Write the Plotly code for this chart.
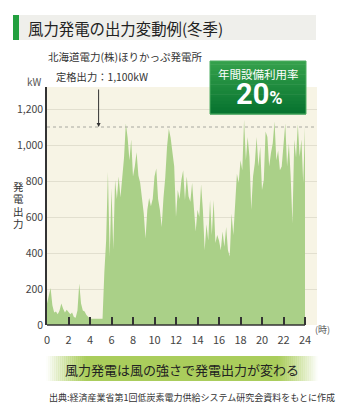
import plotly.graph_objects as go

# Horikappu wind farm output through one winter day, sampled every 10 minutes (kW)
step_minutes = 10
output_kw = [
    120, 170, 205, 110, 70, 75,
    60, 80, 120, 90, 70, 85,
    75, 60, 70, 45, 40, 80,
    230, 120, 80, 75, 55, 45,
    35, 35, 35, 35, 35, 35,
    35, 35, 290, 470, 850, 380,
    760, 420, 805, 700, 825, 710,
    820, 930, 1120, 1040, 915, 1030,
    825, 880, 960, 830, 790, 700,
    620, 480, 640, 705, 660, 700,
    825, 870, 700, 640, 545, 705,
    820, 990, 1090, 1040, 960, 880,
    600, 750, 700, 805, 860, 695,
    825, 715, 685, 790, 650, 520,
    640, 600, 780, 640, 415, 560,
    470, 695, 500, 695, 455, 500,
    470, 415, 520, 435, 545, 415,
    380, 620, 500, 650, 840, 790,
    915, 860, 1140, 915, 1045, 935,
    640, 825, 900, 1045, 880, 990,
    750, 805, 1075, 1045, 880, 955,
    1010, 1130, 915, 970, 860, 880,
    1030, 1120, 880, 1010, 825, 565,
    1030, 930, 1115, 935, 1030, 790,
    1100,
]
hours = [i * step_minutes / 60 for i in range(len(output_kw))]

rated_kw = 1100
hour_ticks = list(range(0, 25, 2))
kw_ticks = [0, 200, 400, 600, 800, 1000, 1200]

FONT = "Noto Sans CJK JP"
W, H = 340, 420
ML, MR, MT, MB = 47, 23, 87, 95
PW, PH = W - ML - MR, H - MT - MB


def fx(px):
    return (px - ML) / PW


def fy(py):
    return (H - MB - py) / PH


fig = go.Figure()
fig.add_trace(go.Scatter(
    x=hours, y=output_kw, mode="lines", fill="tozeroy",
    line=dict(width=0, color="rgb(170,208,136)"),
    fillcolor="rgb(170,208,136)", hoverinfo="skip", showlegend=False,
))

shapes = []
# title bar
shapes.append(dict(type="rect", xref="paper", yref="paper", x0=fx(13), x1=fx(316),
                   y0=fy(40), y1=fy(15), fillcolor="#efefeb", line=dict(width=0), layer="below"))
shapes.append(dict(type="rect", xref="paper", yref="paper", x0=fx(13), x1=fx(19),
                   y0=fy(40), y1=fy(15), fillcolor="#22a03f", line=dict(width=0), layer="below"))
# rated output line
shapes.append(dict(type="line", xref="paper", yref="y", x0=0, x1=1, y0=rated_kw, y1=rated_kw,
                   line=dict(color="#a8a8a0", width=1, dash="dot"), layer="above"))
# bottom axis line up to 24h
shapes.append(dict(type="line", xref="x", yref="paper", x0=0, x1=24, y0=0, y1=0,
                   line=dict(color="#333", width=1.5), layer="above"))

# green badge with vertical gradient
bx0, bx1, by0, by1 = 210, 306, 61, 114
n = 16
top = (52, 160, 75)
bot = (8, 116, 48)
for i in range(n):
    t = i / (n - 1)
    c = tuple(int(top[k] + (bot[k] - top[k]) * t) for k in range(3))
    ya = by0 + (by1 - by0) * i / n
    yb = by0 + (by1 - by0) * (i + 1) / n
    shapes.append(dict(type="rect", xref="paper", yref="paper", x0=fx(bx0), x1=fx(bx1),
                       y0=fy(yb + 0.5), y1=fy(ya), fillcolor="rgb(%d,%d,%d)" % c,
                       line=dict(width=0), layer="above"))
shapes.append(dict(type="rect", xref="paper", yref="paper", x0=fx(bx0), x1=fx(bx1),
                   y0=fy(by1), y1=fy(by0), fillcolor="rgba(0,0,0,0)",
                   line=dict(width=1, color="#4fae62"), layer="above"))

# caption banner, fading at both ends
cx0, cx1, cy0, cy1 = 46, 318, 356, 381
fade = 40
band = (170, 205, 92)
shapes.append(dict(type="rect", xref="paper", yref="paper", x0=fx(cx0 + fade), x1=fx(cx1 - fade),
                   y0=fy(cy1), y1=fy(cy0), fillcolor="rgb(%d,%d,%d)" % band,
                   line=dict(width=0), layer="below"))
steps = 20
for i in range(steps):
    a = (i + 0.5) / steps
    w = fade / steps
    for xa in (cx0 + i * w, cx1 - (i + 1) * w):
        shapes.append(dict(type="rect", xref="paper", yref="paper", x0=fx(xa), x1=fx(xa + w + 0.3),
                           y0=fy(cy1), y1=fy(cy0),
                           fillcolor="rgba(%d,%d,%d,%.3f)" % (band + (a,)),
                           line=dict(width=0), layer="below"))

ann = []


def text(px, py, s, size, color="#333", xanchor="left", family=FONT, **kw):
    ann.append(dict(xref="paper", yref="paper", x=fx(px), y=fy(py), text=s, showarrow=False,
                    xanchor=xanchor, yanchor="middle",
                    font=dict(family=family, size=size, color=color), **kw))


text(26, 28, "風力発電の出力変動例(冬季)", 15.4, "#222")
text(46, 56.5, "北海道電力(株)ほりかっぷ発電所", 10.5, "#333")
text(54, 77, "定格出力：1,100kW", 10.3, "#333")
text(44, 81, "kW", 10, "#555", xanchor="right")
# vertical axis title: one character per line, tight line pitch
ytitle = "<br>".join("<span style='font-size:10.5px'>%s</span>" % ch for ch in "発電出力")
text(18.5, 205, ytitle, 9.5, "#333", xanchor="center")
text(313, 329, "(時)", 9, "#555")
text(258, 73.5, "年間設備利用率", 11.5, "white", xanchor="center")
text(259, 94, "<b>20<span style='font-size:18px'>%</span></b>", 29, "white",
     xanchor="center", family="Roboto")
text(182, 369, "風力発電は風の強さで発電出力が変わる", 13, "#222", xanchor="center")
text(47, 397.5, "出典:経済産業省第1回低炭素電力供給システム研究会資料をもとに作成", 9, "#333")

# arrow pointing at rated output
ann.append(dict(x=4.8, y=rated_kw, xref="x", yref="y", ax=0, ay=-39, axref="pixel", ayref="pixel",
                showarrow=True, arrowhead=2, arrowsize=0.8, arrowwidth=1, arrowcolor="#333", text=""))

fig.update_layout(
    width=W, height=H, autosize=False,
    margin=dict(l=ML, r=MR, t=MT, b=MB, pad=0),
    paper_bgcolor="white", plot_bgcolor="#f7f4e5",
    font=dict(family=FONT, color="#444"),
    shapes=shapes, annotations=ann, showlegend=False,
    xaxis=dict(range=[0, PW / 10.75], tickvals=hour_ticks, ticks="inside", ticklen=8,
               tickcolor="#333", tickwidth=1.5, showgrid=False, zeroline=False, showline=False,
               tickfont=dict(size=11, color="#444"), ticklabelstandoff=7, fixedrange=True),
    yaxis=dict(range=[0, PH * 200 / 36], tickvals=kw_ticks, tickformat=",", ticks="",
               showgrid=True, gridcolor="#e2dfcf", gridwidth=1, zeroline=False,
               showline=True, linecolor="#333", linewidth=1.5,
               tickfont=dict(size=10.5, color="#444"), fixedrange=True),
)

fig.write_html("out.html")
